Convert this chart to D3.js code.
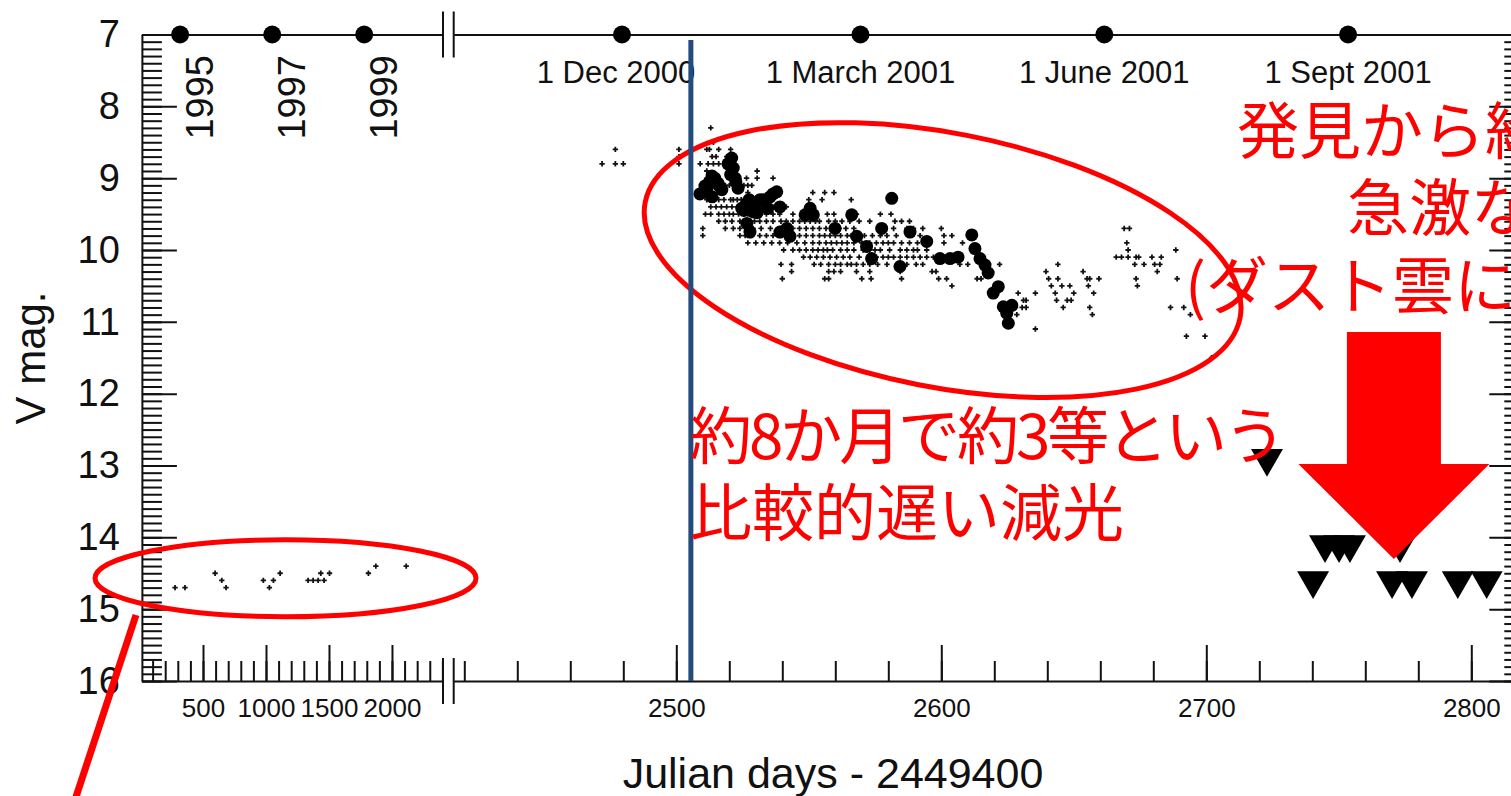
<!DOCTYPE html>
<html>
<head>
<meta charset="utf-8">
<script src="https://d3js.org/d3.v7.min.js"></script>
<style>
body{margin:0;background:#fff;overflow:hidden}
text{font-family:"Liberation Sans",Arial,sans-serif;fill:#111}
text.jp{font-family:"Noto Sans CJK JP",sans-serif;fill:#ff0000}
</style>
</head>
<body>
<svg id="chart" width="1511" height="796"></svg>
<script>

// pre-discovery survey points (JD-2449400, V)
var preDiscovery = [[278,14.7],[357,14.7],[596,14.5],[649,14.6],[683,14.7],[979,14.6],[1027,14.7],[1059,14.6],[1112,14.5],
    [1334,14.6],[1374,14.6],[1414,14.6],[1435,14.5],[1461,14.6],[1504,14.5],[1813,14.5],[1872,14.4],[2113,14.4]];

// visual estimates, one row per 0.1 mag: [mag, days]
var visualRows = [
    [8.3,[2513]],
    [8.5,[2514]],
    [8.6,[2477,2501,2511.5,2512.5,2516,2520.5]],
    [8.7,[2501,2513.5,2515,2519,2521.5]],
    [8.8,[2472,2477,2480,2501,2509,2512,2514,2516]],
    [8.9,[2511.5,2530.5]],
    [9.0,[2526.5,2530.5,2536.5]],
    [9.1,[2517.5,2518.5,2520,2521.5,2523,2524,2525.5,2527,2528.5]],
    [9.2,[2509,2511.5,2527,2539,2551.5,2556,2559.5]],
    [9.3,[2511.5,2514,2516,2518,2520.5,2521.5,2523,2524.5,2526.5,2528,2530,2532,2534,2536,2550,2555,2566]],
    [9.4,[2513,2515,2517,2519,2521,2523,2525,2526.5,2528.5,2530.5,2532.5,2534,2536.5,2539,2541.5]],
    [9.5,[2511,2513,2516,2518,2520,2521.5,2523.5,2525.5,2527,2529,2531.5,2534,2536.5,2539,2544,2557,2559.5,2568,2577,2581]],
    [9.6,[2516,2518.5,2521,2524,2526,2528,2529.5,2531.5,2534,2536.5,2539.5,2541.5,2544,2546.5,2548.5,2550.5,2552.5,2554,2557.5,
        2560,2562.5,2565.5,2569,2573,2582.5,2585,2588]],
    [9.7,[2510,2518.5,2521.5,2524,2526.5,2529,2532,2535.5,2539,2541.5,2544,2546.5,2549,2551.5,2554,2556.5,2559,2561.5,2564,2567,
        2577,2582,2587,2589.5,2593,2600,2669,2671]],
    [9.8,[2510,2524,2526,2528,2531.5,2534,2536.5,2539,2541.5,2544,2546.5,2549,2551.5,2554,2556,2558,2560,2562,2564.5,2566,2568,
        2571,2574,2577,2579.5,2583,2588,2592,2601,2604]],
    [9.9,[2527,2530,2533,2536,2539,2542,2545.5,2548.5,2551.5,2554,2556.5,2558.5,2560.5,2562.5,2564.5,2567,2570,2573,2575.5,2578,
        2580,2582,2585,2588,2591,2594.5,2601,2608,2670]],
    [10.0,[2540.5,2544,2546.5,2549,2551.5,2553.5,2555.5,2557,2559,2562,2564.5,2567,2570.5,2573,2575,2577,2580.5,2584.5,2587,2589.5,
        2591,2594.5,2670.5,2688.5]],
    [10.1,[2548,2550.5,2553,2555.5,2558,2560.5,2563,2565.5,2569,2573,2575.5,2578,2580,2582,2584.5,2587,2589.5,2592,2594.5,2597,
        2666,2668,2670.5,2673.5,2674.5,2679.5,2683]],
    [10.2,[2539.5,2543.5,2552,2554.5,2557.5,2560,2562,2564.5,2566,2568,2570.5,2573,2576,2579.5,2584,2587,2590.5,2593,2607,2610,
        2622,2644,2673,2676.5,2680.5,2682.5]],
    [10.3,[2543.5,2557.5,2559.5,2562,2568,2573,2584.5,2596.5,2598,2639.5,2653.5,2681.5]],
    [10.4,[2540,2556,2557.5,2570,2573.5,2585,2599,2602,2613.5,2615,2640.5,2644,2655,2656,2659.5,2673.5,2689]],
    [10.5,[2604,2641.5,2645.5,2648.5,2655.5,2674]],
    [10.6,[2629,2635.5,2643,2650,2657.5]],
    [10.7,[2631,2632,2643.5,2647.5,2649]],
    [10.8,[2628,2630.5,2632,2646,2656,2686.5,2691.5]],
    [10.9,[2628.5,2657,2694]],
    [11.1,[2635.5]],
    [11.2,[2692.5,2699.5]],
    [11.5,[2702]]
];

// CCD points (large circles)
var ccdPoints = [[2508.9,9.22],[2510,9.2],[2510.8,9.11],[2511.5,9.15],[2512.5,9.05],[2513.5,8.97],[2514.5,9.0],[2515.7,9.07],
    [2516,9.1],[2513.5,9.26],[2517.2,9.16],[2519.5,8.8],[2520.5,8.95],[2520.9,8.72],[2521.5,8.86],[2522.2,9.0],[2522.5,9.05],
    [2523.3,9.14],[2526.6,9.35],[2527.5,9.3],[2524.7,9.42],[2525.5,9.45],[2529.1,9.47],[2530,9.35],[2530.5,9.48],[2531.6,9.30],
    [2533,9.3],[2534.5,9.42],[2535.4,9.26],[2536.5,9.22],[2537.9,9.19],[2539.1,9.40],
    [2526.6,9.63],[2527.8,9.75],[2539.1,9.75],[2541.7,9.70],[2542.9,9.81],[2548.6,9.51],[2550.5,9.42],[2551.7,9.51],[2559.9,9.70],
    [2566.2,9.51],[2568.1,9.81],[2571.8,9.95],[2573.7,10.12],[2577.5,9.70],[2581.3,9.28],[2584.4,10.23],[2588.2,9.75],[2594.5,9.88],
    [2599.5,10.12],[2603.3,10.12],[2606.3,10.1],[2611.5,9.79],[2612.7,9.98],[2614.6,10.12],[2616.5,10.21],[2617.7,10.32],
    [2619.6,10.60],[2621.5,10.51],[2623.4,10.79],[2624.7,10.88],[2626.6,10.77],[2625.3,11.02]];

// fainter-than limits
var upperLimits = [[2722.9,12.9],[2740.3,14.6],[2744.8,14.1],[2750.1,14.1],[2754.2,14.1],[2770.1,14.6],[2773.1,14.1],
    [2777.6,14.6],[2794.9,14.6],[2805.8,14.6]];

var yearMarks = [[318.5,'1995'],[1049.5,'1997'],[1779.5,'1999']];
var dateMarks = [[2479.5,'1 Dec 2000'],[2569.5,'1 March 2001'],[2661.5,'1 June 2001'],[2753.5,'1 Sept 2001']];
var leftTicks = [500,1000,1500,2000];
var rightTicks = [2500,2600,2700,2800];
var magTicks = [7,8,9,10,11,12,13,14,15,16];
var discoveryDay = 2505.5;

var svg = d3.select('#chart');

var xL = d3.scaleLinear().domain([15,2405]).range([141.9,443]);
var xR = d3.scaleLinear().domain([2416,2820]).range([453.7,1524.3]);
var y = d3.scaleLinear().domain([7,16]).range([34.5,681]);

function x(v){ return v < 2410 ? xL(v) : xR(v); }

var leftMinor = d3.range(100,2401,100);
var rightMinor = d3.range(2420,2821,20);
var magMinor = d3.range(70,161).map(function(d){ return d/10; });
var fmt = d3.format('d');

function styleAxis(g, fs){
    g.selectAll('path,line').attr('stroke','#111').attr('stroke-width',2);
    g.selectAll('text').style('font-size',fs+'px').attr('fill','#111');
}

// bottom axes
var bl = svg.append('g').attr('transform','translate(0,681)')
    .call(d3.axisBottom(xL).tickValues(leftMinor).tickSize(-20).tickSizeOuter(0).tickFormat(''));
styleAxis(bl,26);
var blM = svg.append('g').attr('transform','translate(0,681)')
    .call(d3.axisBottom(xL).tickValues(leftTicks).tickSize(-36).tickSizeOuter(0).tickPadding(18).tickFormat(fmt));
blM.select('.domain').remove();
styleAxis(blM,26);

var br = svg.append('g').attr('transform','translate(0,681)')
    .call(d3.axisBottom(xR).tickValues(rightMinor).tickSize(-20).tickSizeOuter(0).tickFormat(''));
styleAxis(br,26);
var brM = svg.append('g').attr('transform','translate(0,681)')
    .call(d3.axisBottom(xR).tickValues(rightTicks).tickSize(-36).tickSizeOuter(0).tickPadding(18).tickFormat(fmt));
brM.select('.domain').remove();
styleAxis(brM,26);

// top axes (line only)
[xL,xR].forEach(function(sc){
    var g = svg.append('g').attr('transform','translate(0,34.5)')
        .call(d3.axisTop(sc).tickValues([]).tickSizeOuter(0));
    styleAxis(g,26);
});

// left / right mag axes
var ylm = svg.append('g').attr('transform','translate(141.9,0)')
    .call(d3.axisLeft(y).tickValues(magMinor).tickSize(-20).tickSizeOuter(0).tickFormat(''));
styleAxis(ylm,38);
var ylM = svg.append('g').attr('transform','translate(141.9,0)')
    .call(d3.axisLeft(y).tickValues(magTicks).tickSize(-35).tickSizeOuter(0).tickPadding(22).tickFormat(fmt));
ylM.select('.domain').remove();
styleAxis(ylM,38);

var yrm = svg.append('g').attr('transform','translate(1524.3,0)')
    .call(d3.axisRight(y).tickValues(magMinor).tickSize(-20).tickSizeOuter(0).tickFormat(''));
styleAxis(yrm,38);
var yrM = svg.append('g').attr('transform','translate(1524.3,0)')
    .call(d3.axisRight(y).tickValues(magTicks).tickSize(-35).tickSizeOuter(0).tickFormat(''));
styleAxis(yrM,38);

// axis break marks
[7,16].forEach(function(m){
    [443,453.7].forEach(function(bx){
        svg.append('line').attr('x1',bx).attr('x2',bx)
            .attr('y1',y(m)-23).attr('y2',y(m)+23)
            .attr('stroke','#111').attr('stroke-width',2);
    });
});

// calendar marks on top axis
svg.selectAll('.ymark').data(yearMarks).enter().append('circle')
    .attr('cx',function(d){ return x(d[0]); }).attr('cy',y(7)).attr('r',9).attr('fill','#000');
svg.selectAll('.ylab').data(yearMarks).enter().append('text')
    .attr('transform',function(d){ return 'translate('+(x(d[0])+33)+',55) rotate(-90)'; })
    .attr('text-anchor','end').style('font-size','38px').text(function(d){ return d[1]; });

svg.selectAll('.dmark').data(dateMarks).enter().append('circle')
    .attr('cx',function(d){ return x(d[0]); }).attr('cy',y(7)).attr('r',9).attr('fill','#000');
svg.selectAll('.dlab').data(dateMarks).enter().append('text')
    .attr('x',function(d,i){ return x(d[0]) - (i == 0 ? 6 : 0); }).attr('y',83)
    .attr('text-anchor','middle').style('font-size','31px').text(function(d){ return d[1]; });

// axis titles
svg.append('text').attr('x',833).attr('y',788).attr('text-anchor','middle')
    .style('font-size','43px').text('Julian days - 2449400');
svg.append('text').attr('transform','translate(45,358) rotate(-90)').attr('text-anchor','middle')
    .style('font-size','42px').text('V mag.');

// data
var visual = [];
visualRows.forEach(function(r){
    r[1].forEach(function(d){ visual.push([d, r[0]]); });
});

var smallSym = d3.symbol().type(d3.symbolCross).size(16);
svg.selectAll('.pre').data(preDiscovery).enter().append('path')
    .attr('d',smallSym)
    .attr('transform',function(d){ return 'translate('+x(d[0])+','+y(d[1])+')'; })
    .attr('fill','#111');
svg.selectAll('.vis').data(visual).enter().append('path')
    .attr('d',smallSym)
    .attr('transform',function(d){ return 'translate('+x(d[0])+','+y(d[1])+')'; })
    .attr('fill','#111');

svg.selectAll('.ccd').data(ccdPoints).enter().append('circle')
    .attr('cx',function(d){ return x(d[0]); }).attr('cy',function(d){ return y(d[1]); })
    .attr('r',6.5).attr('fill','#000');

svg.selectAll('.lim').data(upperLimits).enter().append('path')
    .attr('d',d3.symbol().type(d3.symbolTriangle).size(443))
    .attr('transform',function(d){ return 'translate('+x(d[0])+','+y(d[1])+') rotate(180)'; })
    .attr('fill','#000');

// red annotations
var red = '#ff0000';
svg.append('ellipse')
    .attr('transform','translate('+x(2600.5)+','+y(10.14)+') rotate(11)')
    .attr('rx',303).attr('ry',127)
    .attr('fill','none').attr('stroke',red).attr('stroke-width',5);
svg.append('ellipse')
    .attr('cx',x(1155)).attr('cy',y(14.57)).attr('rx',190.5).attr('ry',38.5)
    .attr('fill','none').attr('stroke',red).attr('stroke-width',5);
svg.append('line').attr('x1',136).attr('y1',615).attr('x2',70).attr('y2',815)
    .attr('stroke',red).attr('stroke-width',7);

var ax = x(2770.8), aTop = y(11.14), aNeck = y(12.98), aTip = y(14.30);
svg.append('path')
    .attr('d','M'+(ax-47)+','+aTop+'H'+(ax+47)+'V'+aNeck+'H'+(ax+95.5)
        +'L'+ax+','+aTip+'L'+(ax-95.5)+','+aNeck+'H'+(ax-47)+'Z')
    .attr('fill',red);

svg.append('line').attr('x1',x(discoveryDay)).attr('x2',x(discoveryDay))
    .attr('y1',40).attr('y2',681).attr('stroke','#244b7d').attr('stroke-width',5);

var notes = [
    ['約8か月で約3等という',690,459,596],
    ['比較的遅い減光',690,536,0],
    ['発見から約',1237,154,0],
    ['急激な',1347,231,0],
    ['(ダスト雲によ',1185,309,0]
];
svg.selectAll('.note').data(notes).enter().append('text')
    .attr('class','jp').attr('x',function(d){ return d[1]; }).attr('y',function(d){ return d[2]; })
    .each(function(d){ if (d[3]) d3.select(this).attr('textLength',d[3]).attr('lengthAdjust','spacing'); })
    .style('font-size','62px').text(function(d){ return d[0]; });

</script>
</body>
</html>
